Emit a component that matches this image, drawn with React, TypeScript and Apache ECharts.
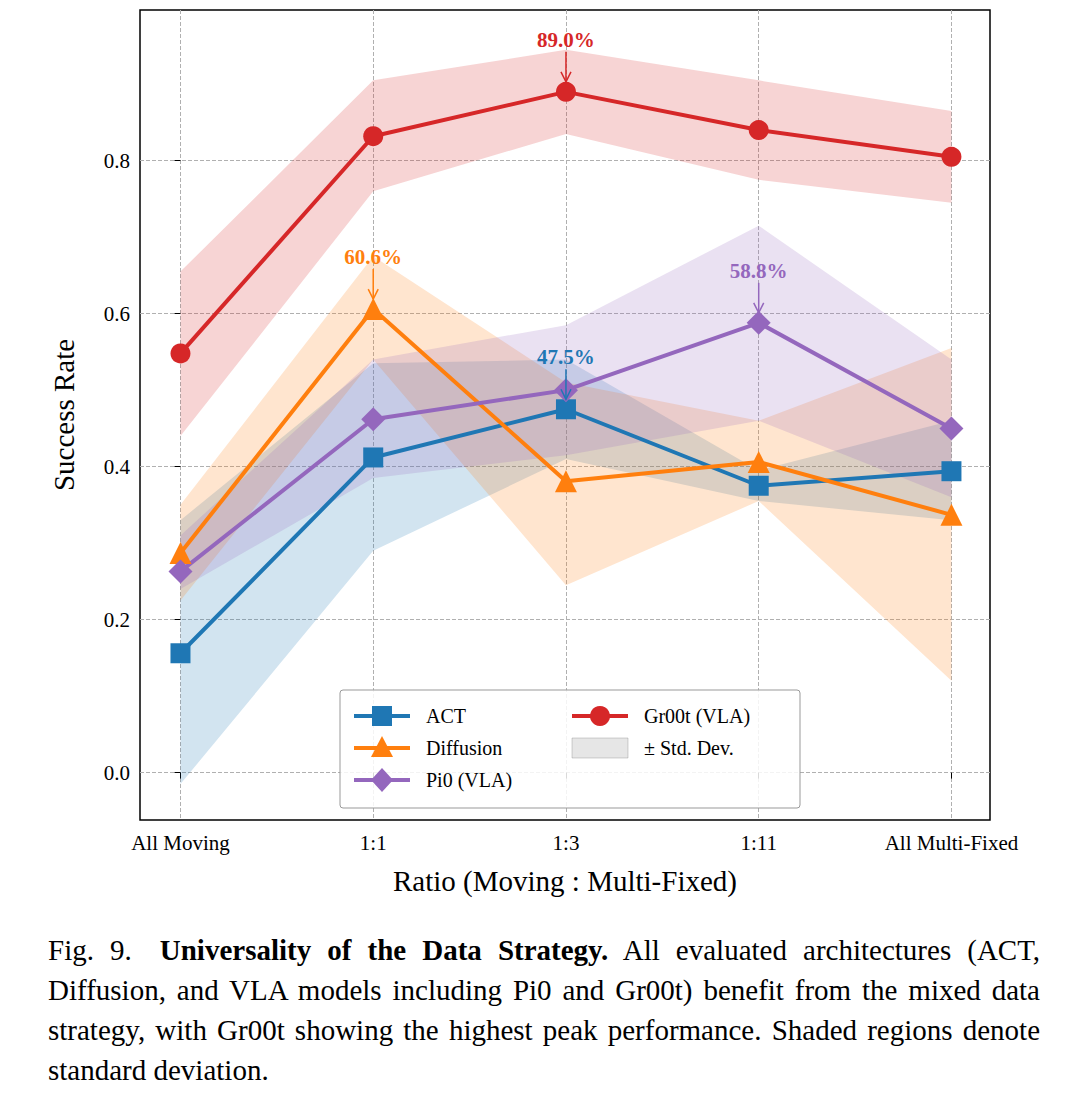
import { useEffect, useRef } from 'react'
import * as echarts from 'echarts'

const CATEGORIES = ['All Moving', '1:1', '1:3', '1:11', 'All Multi-Fixed']
const Y_TICKS = [0, 0.2, 0.4, 0.6, 0.8]

const ACT = [0.156, 0.412, 0.475, 0.375, 0.394]
const ACT_LO = [-0.015, 0.29, 0.41, 0.355, 0.33]
const ACT_HI = [0.33, 0.535, 0.54, 0.395, 0.46]

const DIFF = [0.287, 0.606, 0.381, 0.406, 0.337]
const DIFF_LO = [0.225, 0.54, 0.245, 0.355, 0.12]
const DIFF_HI = [0.35, 0.675, 0.51, 0.46, 0.555]

const PI0 = [0.263, 0.462, 0.5, 0.588, 0.45]
const PI0_LO = [0.24, 0.385, 0.415, 0.46, 0.36]
const PI0_HI = [0.31, 0.54, 0.585, 0.715, 0.54]

const GR00T = [0.548, 0.832, 0.89, 0.84, 0.805]
const GR00T_LO = [0.44, 0.76, 0.835, 0.775, 0.745]
const GR00T_HI = [0.655, 0.905, 0.945, 0.905, 0.865]

// [series, index, label, colour]
const PEAKS: [number[], number, string, string][] = [
  [GR00T, 2, '89.0%', '#d62728'],
  [DIFF, 1, '60.6%', '#ff7f0e'],
  [ACT, 2, '47.5%', '#1f77b4'],
  [PI0, 3, '58.8%', '#9467bd'],
]

const FONT = '"Liberation Serif", "Times New Roman", serif'

function band(lo: number[], hi: number[], color: string, z: number) {
  return {
    type: 'custom', z, silent: true,
    data: [0],
    renderItem: (_p: any, api: any) => {
      const pts: number[][] = []
      hi.forEach((v, i) => pts.push(api.coord([i, v])))
      for (let i = lo.length - 1; i >= 0; i--) pts.push(api.coord([i, lo[i]]))
      return { type: 'polygon', shape: { points: pts }, style: { fill: color, opacity: 0.2 } }
    },
  }
}

function line(name: string, data: number[], color: string, symbol: string, size: number) {
  return {
    name, type: 'line', z: 5, data: data.map((v, i) => [i, v]),
    symbol, symbolSize: size, lineStyle: { color, width: 4 },
    itemStyle: { color, opacity: 1 },
  }
}

export default function App() {
  const ref = useRef<HTMLDivElement>(null)

  useEffect(() => {
    document.body.style.margin = '0'
    if (!ref.current) return
    const chart = echarts.init(ref.current, undefined, { renderer: 'svg' })

    const annot = {
      type: 'custom', z: 10, silent: true, data: [0],
      renderItem: (_p: any, api: any) => ({
        type: 'group',
        children: PEAKS.flatMap(([s, i, label, color]) => {
          const [x, y] = api.coord([i, s[i]])
          return [
            { type: 'text', x, y: y - 52, style: { text: label, fill: color, font: `bold 21px ${FONT}`, align: 'center', verticalAlign: 'middle' } },
            { type: 'line', shape: { x1: x, y1: y - 40, x2: x, y2: y - 10 }, style: { stroke: color, lineWidth: 1.5 } },
            { type: 'polyline', shape: { points: [[x - 5, y - 20], [x, y - 10], [x + 5, y - 20]] }, style: { stroke: color, lineWidth: 1.5, fill: 'none' } },
          ]
        }),
      }),
    }

    const lx = 340, ly = 690
    const legendItem = (x: number, y: number, color: string, shape: any, label: string) => [
      { type: 'line', shape: { x1: x, y1: y, x2: x + 56, y2: y }, style: { stroke: color, lineWidth: 4 } },
      { ...shape, style: { fill: color } },
      { type: 'text', x: x + 72, y, style: { text: label, fill: '#000', font: `20px ${FONT}`, verticalAlign: 'middle' } },
    ]

    chart.setOption({
      animation: false,
      grid: { left: 140, right: 90, top: 10, bottom: 80, show: true, borderColor: '#000', borderWidth: 1.5 },
      xAxis: {
        type: 'value', min: -0.21, max: 4.2,
        axisLine: { show: false },
        axisTick: { show: true, customValues: [0, 1, 2, 3, 4], length: 6, lineStyle: { color: '#000' } },
        axisLabel: { customValues: [0, 1, 2, 3, 4], formatter: (v: number) => CATEGORIES[v], color: '#000', fontFamily: FONT, fontSize: 21, margin: 12 },
        splitLine: { show: true, lineStyle: { type: 'dashed', color: '#b0b0b0' } },
        name: 'Ratio (Moving : Multi-Fixed)', nameLocation: 'middle', nameGap: 46,
        nameTextStyle: { color: '#000', fontFamily: FONT, fontSize: 29 },
      },
      yAxis: {
        type: 'value', min: -0.062, max: 0.997,
        axisLine: { show: false },
        axisTick: { show: true, customValues: Y_TICKS, length: 6, lineStyle: { color: '#000' } },
        axisLabel: { customValues: Y_TICKS, formatter: (v: number) => v.toFixed(1), color: '#000', fontFamily: FONT, fontSize: 21, margin: 10 },
        splitLine: { show: true, lineStyle: { type: 'dashed', color: '#b0b0b0' } },
        name: 'Success Rate', nameLocation: 'middle', nameGap: 62,
        nameTextStyle: { color: '#000', fontFamily: FONT, fontSize: 29 },
      },
      series: [
        band(ACT_LO, ACT_HI, '#1f77b4', 1),
        band(DIFF_LO, DIFF_HI, '#ff7f0e', 1),
        band(PI0_LO, PI0_HI, '#9467bd', 1),
        band(GR00T_LO, GR00T_HI, '#d62728', 1),
        line('ACT', ACT, '#1f77b4', 'rect', 20),
        line('Diffusion', DIFF, '#ff7f0e', 'triangle', 22),
        line('Pi0 (VLA)', PI0, '#9467bd', 'diamond', 24),
        line('Gr00t (VLA)', GR00T, '#d62728', 'circle', 20),
        annot,
      ],
      graphic: [
        { type: 'rect', z: 100, shape: { x: lx, y: ly, width: 460, height: 118, r: 3 }, style: { fill: 'rgba(255,255,255,0.85)', stroke: '#999', lineWidth: 1 } },
        ...[
          ...legendItem(lx + 14, ly + 26, '#1f77b4', { type: 'rect', shape: { x: lx + 32, y: ly + 16, width: 20, height: 20 } }, 'ACT'),
          ...legendItem(lx + 14, ly + 58, '#ff7f0e', { type: 'polygon', shape: { points: [[lx + 42, ly + 46], [lx + 53, ly + 67], [lx + 31, ly + 67]] } }, 'Diffusion'),
          ...legendItem(lx + 14, ly + 90, '#9467bd', { type: 'polygon', shape: { points: [[lx + 42, ly + 78], [lx + 53, ly + 90], [lx + 42, ly + 102], [lx + 31, ly + 90]] } }, 'Pi0 (VLA)'),
          ...legendItem(lx + 232, ly + 26, '#d62728', { type: 'circle', shape: { cx: lx + 260, cy: ly + 26, r: 10 } }, 'Gr00t (VLA)'),
          { type: 'rect', shape: { x: lx + 232, y: ly + 48, width: 56, height: 20 }, style: { fill: 'rgba(128,128,128,0.2)', stroke: 'rgba(128,128,128,0.35)' } },
          { type: 'text', x: lx + 304, y: ly + 58, style: { text: '± Std. Dev.', fill: '#000', font: `20px ${FONT}`, verticalAlign: 'middle' } },
        ].map((e: any) => ({ ...e, z: 101 })),
      ],
    })
    return () => chart.dispose()
  }, [])

  return (
    <div style={{ width: 1080, fontFamily: FONT }}>
      <div ref={ref} style={{ width: 1080, height: 900 }} />
      <div style={{ padding: '30px 40px 0 48px', fontSize: 29, lineHeight: '40px', textAlign: 'justify', color: '#000' }}>
        <span style={{ marginRight: 28 }}>Fig. 9.</span>
        <b>Universality of the Data Strategy.</b> All evaluated architectures (ACT, Diffusion, and VLA models including Pi0 and Gr00t) benefit from the mixed data strategy, with Gr00t showing the highest peak performance. Shaded regions denote standard deviation.
      </div>
    </div>
  )
}
